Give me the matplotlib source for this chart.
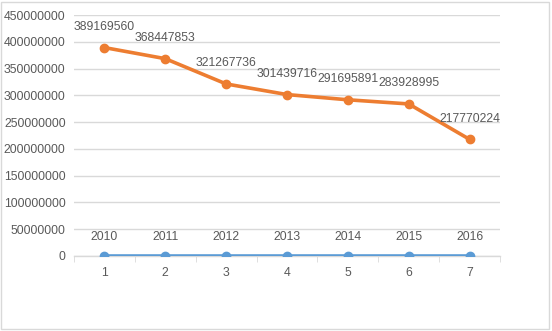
import matplotlib.pyplot as plt
from matplotlib.patches import Rectangle

categories = [1, 2, 3, 4, 5, 6, 7]
years = [2010, 2011, 2012, 2013, 2014, 2015, 2016]
amounts = [389169560, 368447853, 321267736, 301439716, 291695891, 283928995, 217770224]

plt.rcParams['font.family'] = ['Liberation Sans', 'DejaVu Sans']
txt = '#595959'

fig = plt.figure(figsize=(5.52, 3.31), dpi=100)
ax = fig.add_axes([74 / 552, 75 / 331, 426 / 552, 241 / 331])

x = list(range(len(categories)))
ax.plot(x, years, color='#5B9BD5', lw=2.6, marker='o', ms=6, zorder=3)
ax.plot(x, amounts, color='#ED7D31', lw=2.6, marker='o', ms=6, zorder=3)

for xi, v in zip(x, years):
    ax.annotate(str(v), (xi, v), xytext=(0, 14), textcoords='offset points',
                ha='center', va='center', fontsize=8.8, color=txt)
for xi, v in zip(x, amounts):
    ax.annotate(str(v), (xi, v), xytext=(0, 15), textcoords='offset points',
                ha='center', va='center', fontsize=8.8, color=txt)

ax.set_xlim(-0.5, len(categories) - 0.5)
ax.set_ylim(0, 450000000)
ax.set_yticks(range(0, 450000001, 50000000))
ax.set_yticklabels([str(t) for t in range(0, 450000001, 50000000)])
ax.set_xticks(x)
ax.set_xticklabels([str(c) for c in categories])
ax.set_xticks([i - 0.5 for i in range(len(categories) + 1)], minor=True)

ax.grid(axis='y', color='#D9D9D9', lw=1)
ax.set_axisbelow(True)
for s in ['top', 'right', 'left']:
    ax.spines[s].set_visible(False)
ax.spines['bottom'].set_color('#D9D9D9')
ax.spines['bottom'].set_linewidth(1)
ax.tick_params(axis='x', which='major', length=0, pad=8, labelsize=8.8, labelcolor=txt)
ax.tick_params(axis='x', which='minor', length=4, color='#D9D9D9')
ax.tick_params(axis='y', length=0, pad=6, labelsize=8.8, labelcolor=txt)

fig.patches.append(Rectangle((1 / 552, 2 / 331), 548 / 552, 327 / 331,
                             transform=fig.transFigure, fill=False,
                             edgecolor='#D9D9D9', lw=1))

fig.savefig('out.png', dpi=100)
